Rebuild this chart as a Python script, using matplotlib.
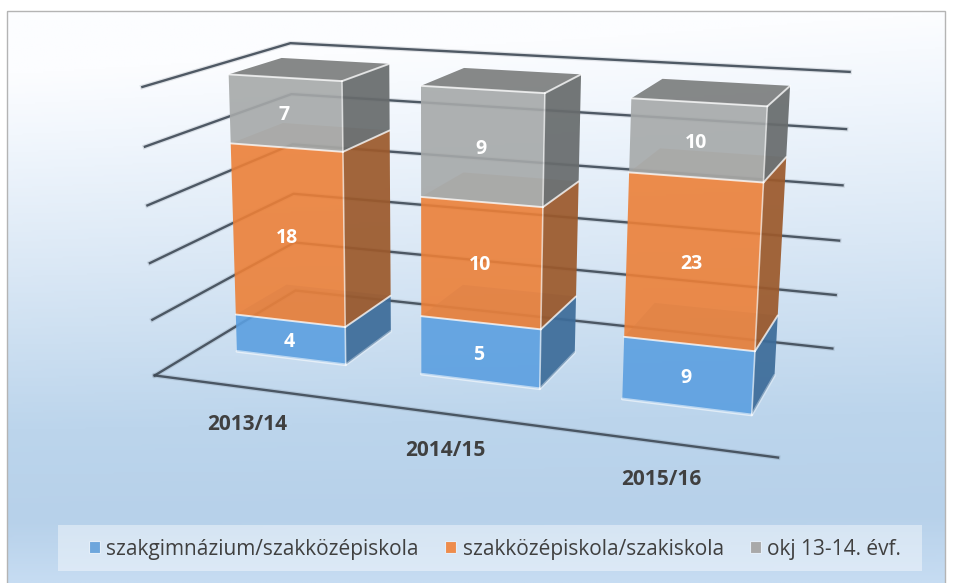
import numpy as np
import matplotlib
matplotlib.use('Agg')
import matplotlib.pyplot as plt
from matplotlib.colors import LinearSegmentedColormap
from matplotlib.patches import Polygon, Patch, Rectangle

categories = ['2013/14', '2014/15', '2015/16']
series_names = ['szakgimnázium/szakközépiskola', 'szakközépiskola/szakiskola', 'okj 13-14. évf.']
szakgimnazium = [4, 5, 9]
szakkozep = [18, 10, 23]
okj = [7, 9, 10]

plt.rcParams['font.family'] = ['Open Sans', 'DejaVu Sans']

# axis box corners: (x, y, z) -> pixel, used to fit the perspective
box_3d = [(0, 0, 0), (1, 0, 0), (0, 0, 1), (1, 0, 1), (0, 1, 0), (0, 1, 1), (1, 1, 1)]
box_px = [(157, 375), (778, 458), (293, 291), (833, 348), (140, 87), (293, 43), (849, 72)]

A, b = [], []
for (x, y, z), (u, v) in zip(box_3d, box_px):
    A.append([x, y, z, 1, 0, 0, 0, 0, -u * x, -u * y, -u * z])
    A.append([0, 0, 0, 0, x, y, z, 1, -v * x, -v * y, -v * z])
    b += [u, v]
m = np.linalg.lstsq(np.array(A, float), np.array(b, float), rcond=None)[0]
M = np.append(m, 1).reshape(3, 4)


def proj(x, y, z):
    p = M @ np.array([x, y, z, 1.0])
    return p[0] / p[2], p[1] / p[2]


def face(pts, color, alpha, z):
    ax.add_patch(Polygon([proj(*p) for p in pts], closed=True, facecolor=color,
                         edgecolor='none', alpha=alpha, zorder=z))


def edge(p, q, alpha=0.75, lw=1.4, color='white', z=6):
    ax.plot(*zip(proj(*p), proj(*q)), color=color, lw=lw, alpha=alpha, zorder=z,
            solid_capstyle='round')


fig = plt.figure(figsize=(9.58, 5.83), dpi=100)
ax = fig.add_axes([0, 0, 1, 1])
ax.set_xlim(0, 958)
ax.set_ylim(583, 0)
ax.axis('off')

# chart area background
bg = LinearSegmentedColormap.from_list('bg', [
    (0.00, '#fcfdff'), (0.12, '#f2f7fd'), (0.40, '#d9e7f5'),
    (0.70, '#bcd5ec'), (0.88, '#b7d1ea'), (1.00, '#c6dcf2')])
yy, xx = np.mgrid[0:1:300j, 0:1:300j]
ax.imshow(np.clip(yy - 0.06 * (1 - xx) * (1 - yy) * 2, 0, 1), cmap=bg, vmin=0, vmax=1,
          extent=(7, 945, 583, 11), aspect='auto', zorder=0)
ax.set_xlim(0, 958)
ax.set_ylim(583, 0)
ax.add_patch(Rectangle((7, 11), 938, 580, fill=False, edgecolor='#b4b4b4', lw=1, zorder=1))

# gridlines on the walls and the floor
grid_col = '#3f4a56'
for y in np.linspace(0, 1, 6):
    pts = [proj(0, y, 0), proj(0, y, 1), proj(1, y, 1)]
    ax.plot(*zip(*pts), color=grid_col, lw=3.4, alpha=0.14, zorder=2)
    ax.plot(*zip(*pts), color=grid_col, lw=1.7, alpha=0.9, zorder=2)
pts = [proj(0, 0, 0), proj(1, 0, 0)]
ax.plot(*zip(*pts), color=grid_col, lw=3.4, alpha=0.14, zorder=2)
ax.plot(*zip(*pts), color=grid_col, lw=1.7, alpha=0.9, zorder=2)

# stacked columns, share of each year's total
front_cols = ['#5b9fe0', '#ec8038', '#a6a9a9']
side_cols = ['#3d6c99', '#9c5a2c', '#686c6d']
top_cols = ['#3f78ad', '#a3602f', '#828484']
bar_w = 0.2
z0, z1 = 0.30, 0.67
values = np.array([szakgimnazium, szakkozep, okj], float)
totals = values.sum(axis=0)

for i in range(len(categories)):
    x0 = (i + 0.5) / 3 - bar_w / 2
    x1 = x0 + bar_w
    bottom = 0.0
    for s in range(3):
        top = bottom + values[s, i] / totals[i]
        # top first so that it shows through the front of the box
        face([(x0, top, z0), (x1, top, z0), (x1, top, z1), (x0, top, z1)],
             top_cols[s], 0.97 if s == 2 else 0.4, 3 + 0.1 * s)
        face([(x1, bottom, z0), (x1, bottom, z1), (x1, top, z1), (x1, top, z0)],
             side_cols[s], 0.93, 3.5 + 0.1 * s)
        face([(x0, bottom, z0), (x1, bottom, z0), (x1, top, z0), (x0, top, z0)],
             front_cols[s], 0.9, 4 + 0.1 * s)
        edge((x0, top, z0), (x1, top, z0))
        edge((x1, top, z0), (x1, top, z1))
        edge((x1, bottom, z0), (x1, top, z0), alpha=0.6, lw=1.2)
        mx, my = proj((x0 + x1) / 2, (bottom + top) / 2, z0)
        ax.text(mx - 1, my + 2.5, str(int(values[s, i])), color='white', fontsize=14, fontweight='bold',
                ha='center', va='center', zorder=8)
        bottom = top
    edge((x0, 0, z0), (x1, 0, z0), alpha=0.55, lw=2)
    edge((x1, 0, z0), (x1, 0, z1), alpha=0.35, lw=2)

# category labels under the front edge
for i, cat in enumerate(categories):
    px, py = proj((i + 0.5) / 3, 0, 0)
    ax.text(px, py + 37, cat, color='#404040', fontsize=15, fontweight='bold',
            ha='center', va='center', zorder=8)

ax.add_patch(Rectangle((58, 525), 864, 46, facecolor='white', edgecolor='none', alpha=0.42, zorder=8))
handles = [Patch(facecolor=c, edgecolor='#e4eef8', lw=0.8) for c in ['#6ea6dc', '#ee8c4c', '#a9a9a9']]
leg = ax.legend(handles, series_names, loc='center', bbox_to_anchor=(495, 549),
                bbox_transform=ax.transData, ncol=3, frameon=False,
                fontsize=15, labelcolor='#404040', handlelength=0.55, handleheight=0.55,
                handletextpad=0.3, columnspacing=1.25, borderpad=0, borderaxespad=0)
leg.set_zorder(9)

fig.savefig('out.png', dpi=100)
